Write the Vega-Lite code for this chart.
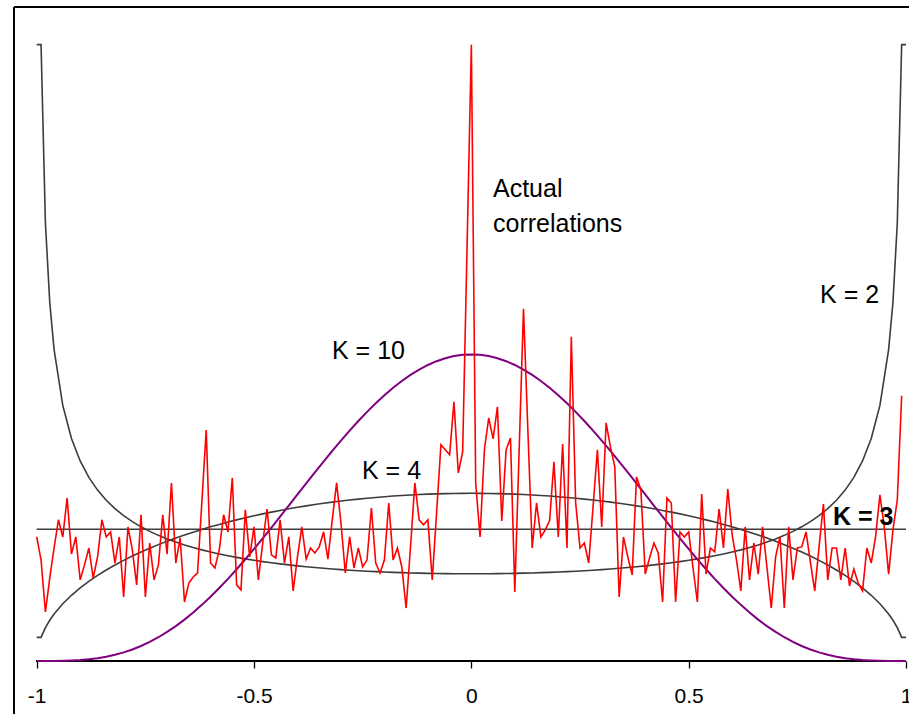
{
"$schema": "https://vega.github.io/schema/vega-lite/v6.json",
"width": 895, "height": 654,
"padding": {"left": 14, "top": 7, "right": 0, "bottom": 53},
"autosize": {"type": "none"},
"background": "white",
"config": {"view": {"stroke": null}, "font": "Liberation Sans"},
"datasets": {
"curves": [
{"x":-1,"k2":2.34,"k4":0.0898,"k10":0,"k3":0.5},
{"x":-0.99,"k2":2.34,"k4":0.0898,"k10":0,"k3":0.5},
{"x":-0.98,"k2":1.6635,"k4":0.1267,"k10":0,"k3":0.5},
{"x":-0.97,"k2":1.3617,"k4":0.1548,"k10":0,"k3":0.5},
{"x":-0.96,"k2":1.1823,"k4":0.1783,"k10":0.0001,"k3":0.5},
{"x":-0.94,"k2":0.9703,"k4":0.2172,"k10":0.0006,"k3":0.5},
{"x":-0.92,"k2":0.8447,"k4":0.2495,"k10":0.0017,"k3":0.5},
{"x":-0.90,"k2":0.7595,"k4":0.2775,"k10":0.0035,"k3":0.5},
{"x":-0.88,"k2":0.6970,"k4":0.3024,"k10":0.0063,"k3":0.5},
{"x":-0.86,"k2":0.6487,"k4":0.3249,"k10":0.0105,"k3":0.5},
{"x":-0.84,"k2":0.6101,"k4":0.3454,"k10":0.0161,"k3":0.5},
{"x":-0.82,"k2":0.5784,"k4":0.3644,"k10":0.0234,"k3":0.5},
{"x":-0.80,"k2":0.5517,"k4":0.3820,"k10":0.0326,"k3":0.5},
{"x":-0.78,"k2":0.5290,"k4":0.3984,"k10":0.0438,"k3":0.5},
{"x":-0.76,"k2":0.5094,"k4":0.4138,"k10":0.0570,"k3":0.5},
{"x":-0.74,"k2":0.4922,"k4":0.4282,"k10":0.0725,"k3":0.5},
{"x":-0.72,"k2":0.4770,"k4":0.4418,"k10":0.0902,"k3":0.5},
{"x":-0.70,"k2":0.4636,"k4":0.4546,"k10":0.1103,"k3":0.5},
{"x":-0.68,"k2":0.4515,"k4":0.4668,"k10":0.1326,"k3":0.5},
{"x":-0.66,"k2":0.4406,"k4":0.4783,"k10":0.1572,"k3":0.5},
{"x":-0.64,"k2":0.4308,"k4":0.4892,"k10":0.1841,"k3":0.5},
{"x":-0.62,"k2":0.4219,"k4":0.4995,"k10":0.2131,"k3":0.5},
{"x":-0.60,"k2":0.4138,"k4":0.5093,"k10":0.2441,"k3":0.5},
{"x":-0.58,"k2":0.4064,"k4":0.5186,"k10":0.2771,"k3":0.5},
{"x":-0.56,"k2":0.3996,"k4":0.5274,"k10":0.3119,"k3":0.5},
{"x":-0.54,"k2":0.3933,"k4":0.5358,"k10":0.3483,"k3":0.5},
{"x":-0.52,"k2":0.3876,"k4":0.5438,"k10":0.3862,"k3":0.5},
{"x":-0.50,"k2":0.3823,"k4":0.5513,"k10":0.4253,"k3":0.5},
{"x":-0.48,"k2":0.3774,"k4":0.5585,"k10":0.4655,"k3":0.5},
{"x":-0.46,"k2":0.3728,"k4":0.5653,"k10":0.5065,"k3":0.5},
{"x":-0.44,"k2":0.3686,"k4":0.5717,"k10":0.5482,"k3":0.5},
{"x":-0.42,"k2":0.3648,"k4":0.5777,"k10":0.5902,"k3":0.5},
{"x":-0.40,"k2":0.3612,"k4":0.5835,"k10":0.6323,"k3":0.5},
{"x":-0.38,"k2":0.3579,"k4":0.5889,"k10":0.6744,"k3":0.5},
{"x":-0.36,"k2":0.3548,"k4":0.5939,"k10":0.7162,"k3":0.5},
{"x":-0.34,"k2":0.3520,"k4":0.5987,"k10":0.7573,"k3":0.5},
{"x":-0.32,"k2":0.3494,"k4":0.6031,"k10":0.7976,"k3":0.5},
{"x":-0.30,"k2":0.3470,"k4":0.6073,"k10":0.8368,"k3":0.5},
{"x":-0.28,"k2":0.3448,"k4":0.6112,"k10":0.8748,"k3":0.5},
{"x":-0.26,"k2":0.3428,"k4":0.6147,"k10":0.9112,"k3":0.5},
{"x":-0.24,"k2":0.3410,"k4":0.6180,"k10":0.9458,"k3":0.5},
{"x":-0.22,"k2":0.3394,"k4":0.6210,"k10":0.9785,"k3":0.5},
{"x":-0.20,"k2":0.3379,"k4":0.6238,"k10":1.0091,"k3":0.5},
{"x":-0.18,"k2":0.3365,"k4":0.6262,"k10":1.0373,"k3":0.5},
{"x":-0.16,"k2":0.3354,"k4":0.6284,"k10":1.0631,"k3":0.5},
{"x":-0.14,"k2":0.3343,"k4":0.6304,"k10":1.0862,"k3":0.5},
{"x":-0.12,"k2":0.3335,"k4":0.6320,"k10":1.1065,"k3":0.5},
{"x":-0.10,"k2":0.3327,"k4":0.6334,"k10":1.1239,"k3":0.5},
{"x":-0.08,"k2":0.3321,"k4":0.6346,"k10":1.1382,"k3":0.5},
{"x":-0.06,"k2":0.3316,"k4":0.6355,"k10":1.1495,"k3":0.5},
{"x":-0.04,"k2":0.3313,"k4":0.6361,"k10":1.1576,"k3":0.5},
{"x":-0.02,"k2":0.3311,"k4":0.6365,"k10":1.1625,"k3":0.5},
{"x":0,"k2":0.3310,"k4":0.6366,"k10":1.1641,"k3":0.5},
{"x":0.02,"k2":0.3311,"k4":0.6365,"k10":1.1625,"k3":0.5},
{"x":0.04,"k2":0.3313,"k4":0.6361,"k10":1.1576,"k3":0.5},
{"x":0.06,"k2":0.3316,"k4":0.6355,"k10":1.1495,"k3":0.5},
{"x":0.08,"k2":0.3321,"k4":0.6346,"k10":1.1382,"k3":0.5},
{"x":0.10,"k2":0.3327,"k4":0.6334,"k10":1.1239,"k3":0.5},
{"x":0.12,"k2":0.3335,"k4":0.6320,"k10":1.1065,"k3":0.5},
{"x":0.14,"k2":0.3343,"k4":0.6304,"k10":1.0862,"k3":0.5},
{"x":0.16,"k2":0.3354,"k4":0.6284,"k10":1.0631,"k3":0.5},
{"x":0.18,"k2":0.3365,"k4":0.6262,"k10":1.0373,"k3":0.5},
{"x":0.20,"k2":0.3379,"k4":0.6238,"k10":1.0091,"k3":0.5},
{"x":0.22,"k2":0.3394,"k4":0.6210,"k10":0.9785,"k3":0.5},
{"x":0.24,"k2":0.3410,"k4":0.6180,"k10":0.9458,"k3":0.5},
{"x":0.26,"k2":0.3428,"k4":0.6147,"k10":0.9112,"k3":0.5},
{"x":0.28,"k2":0.3448,"k4":0.6112,"k10":0.8748,"k3":0.5},
{"x":0.30,"k2":0.3470,"k4":0.6073,"k10":0.8368,"k3":0.5},
{"x":0.32,"k2":0.3494,"k4":0.6031,"k10":0.7976,"k3":0.5},
{"x":0.34,"k2":0.3520,"k4":0.5987,"k10":0.7573,"k3":0.5},
{"x":0.36,"k2":0.3548,"k4":0.5939,"k10":0.7162,"k3":0.5},
{"x":0.38,"k2":0.3579,"k4":0.5889,"k10":0.6744,"k3":0.5},
{"x":0.40,"k2":0.3612,"k4":0.5835,"k10":0.6323,"k3":0.5},
{"x":0.42,"k2":0.3648,"k4":0.5777,"k10":0.5902,"k3":0.5},
{"x":0.44,"k2":0.3686,"k4":0.5717,"k10":0.5482,"k3":0.5},
{"x":0.46,"k2":0.3728,"k4":0.5653,"k10":0.5065,"k3":0.5},
{"x":0.48,"k2":0.3774,"k4":0.5585,"k10":0.4655,"k3":0.5},
{"x":0.50,"k2":0.3823,"k4":0.5513,"k10":0.4253,"k3":0.5},
{"x":0.52,"k2":0.3876,"k4":0.5438,"k10":0.3862,"k3":0.5},
{"x":0.54,"k2":0.3933,"k4":0.5358,"k10":0.3483,"k3":0.5},
{"x":0.56,"k2":0.3996,"k4":0.5274,"k10":0.3119,"k3":0.5},
{"x":0.58,"k2":0.4064,"k4":0.5186,"k10":0.2771,"k3":0.5},
{"x":0.60,"k2":0.4138,"k4":0.5093,"k10":0.2441,"k3":0.5},
{"x":0.62,"k2":0.4219,"k4":0.4995,"k10":0.2131,"k3":0.5},
{"x":0.64,"k2":0.4308,"k4":0.4892,"k10":0.1841,"k3":0.5},
{"x":0.66,"k2":0.4406,"k4":0.4783,"k10":0.1572,"k3":0.5},
{"x":0.68,"k2":0.4515,"k4":0.4668,"k10":0.1326,"k3":0.5},
{"x":0.70,"k2":0.4636,"k4":0.4546,"k10":0.1103,"k3":0.5},
{"x":0.72,"k2":0.4770,"k4":0.4418,"k10":0.0902,"k3":0.5},
{"x":0.74,"k2":0.4922,"k4":0.4282,"k10":0.0725,"k3":0.5},
{"x":0.76,"k2":0.5094,"k4":0.4138,"k10":0.0570,"k3":0.5},
{"x":0.78,"k2":0.5290,"k4":0.3984,"k10":0.0438,"k3":0.5},
{"x":0.80,"k2":0.5517,"k4":0.3820,"k10":0.0326,"k3":0.5},
{"x":0.82,"k2":0.5784,"k4":0.3644,"k10":0.0234,"k3":0.5},
{"x":0.84,"k2":0.6101,"k4":0.3454,"k10":0.0161,"k3":0.5},
{"x":0.86,"k2":0.6487,"k4":0.3249,"k10":0.0105,"k3":0.5},
{"x":0.88,"k2":0.6970,"k4":0.3024,"k10":0.0063,"k3":0.5},
{"x":0.90,"k2":0.7595,"k4":0.2775,"k10":0.0035,"k3":0.5},
{"x":0.92,"k2":0.8447,"k4":0.2495,"k10":0.0017,"k3":0.5},
{"x":0.94,"k2":0.9703,"k4":0.2172,"k10":0.0006,"k3":0.5},
{"x":0.96,"k2":1.1823,"k4":0.1783,"k10":0.0001,"k3":0.5},
{"x":0.97,"k2":1.3617,"k4":0.1548,"k10":0,"k3":0.5},
{"x":0.98,"k2":1.6635,"k4":0.1267,"k10":0,"k3":0.5},
{"x":0.99,"k2":2.34,"k4":0.0898,"k10":0,"k3":0.5},
{"x":1,"k2":2.34,"k4":0.0898,"k10":0,"k3":0.5}
],
"actual": [
{"x":-1,"v":0.471},{"x":-0.99,"v":0.384},{"x":-0.98,"v":0.186},{"x":-0.97,"v":0.315},{"x":-0.96,"v":0.429},
{"x":-0.95,"v":0.536},{"x":-0.94,"v":0.471},{"x":-0.93,"v":0.619},{"x":-0.92,"v":0.406},{"x":-0.91,"v":0.471},
{"x":-0.90,"v":0.308},{"x":-0.89,"v":0.365},{"x":-0.88,"v":0.429},{"x":-0.87,"v":0.315},{"x":-0.86,"v":0.395},
{"x":-0.85,"v":0.536},{"x":-0.84,"v":0.471},{"x":-0.83,"v":0.490},{"x":-0.82,"v":0.372},{"x":-0.81,"v":0.471},
{"x":-0.80,"v":0.243},{"x":-0.79,"v":0.509},{"x":-0.78,"v":0.422},{"x":-0.77,"v":0.289},{"x":-0.76,"v":0.555},
{"x":-0.75,"v":0.243},{"x":-0.74,"v":0.448},{"x":-0.73,"v":0.308},{"x":-0.72,"v":0.365},{"x":-0.71,"v":0.555},
{"x":-0.70,"v":0.406},{"x":-0.69,"v":0.676},{"x":-0.68,"v":0.372},{"x":-0.67,"v":0.467},{"x":-0.66,"v":0.224},
{"x":-0.65,"v":0.296},{"x":-0.64,"v":0.319},{"x":-0.63,"v":0.334},{"x":-0.62,"v":0.604},{"x":-0.61,"v":0.877},
{"x":-0.60,"v":0.372},{"x":-0.59,"v":0.353},{"x":-0.58,"v":0.422},{"x":-0.57,"v":0.555},{"x":-0.56,"v":0.490},
{"x":-0.55,"v":0.695},{"x":-0.54,"v":0.289},{"x":-0.53,"v":0.270},{"x":-0.52,"v":0.574},{"x":-0.51,"v":0.395},
{"x":-0.50,"v":0.509},{"x":-0.49,"v":0.308},{"x":-0.48,"v":0.448},{"x":-0.47,"v":0.577},{"x":-0.46,"v":0.403},
{"x":-0.45,"v":0.391},{"x":-0.44,"v":0.536},{"x":-0.43,"v":0.372},{"x":-0.42,"v":0.471},{"x":-0.41,"v":0.266},
{"x":-0.40,"v":0.395},{"x":-0.39,"v":0.509},{"x":-0.38,"v":0.387},{"x":-0.37,"v":0.429},{"x":-0.36,"v":0.410},
{"x":-0.35,"v":0.433},{"x":-0.34,"v":0.490},{"x":-0.33,"v":0.387},{"x":-0.32,"v":0.536},{"x":-0.31,"v":0.676},
{"x":-0.30,"v":0.524},{"x":-0.29,"v":0.334},{"x":-0.28,"v":0.471},{"x":-0.27,"v":0.353},{"x":-0.26,"v":0.429},
{"x":-0.25,"v":0.357},{"x":-0.24,"v":0.384},{"x":-0.23,"v":0.581},{"x":-0.22,"v":0.372},{"x":-0.21,"v":0.334},
{"x":-0.20,"v":0.384},{"x":-0.19,"v":0.600},{"x":-0.18,"v":0.384},{"x":-0.17,"v":0.429},{"x":-0.16,"v":0.357},
{"x":-0.15,"v":0.201},{"x":-0.14,"v":0.433},{"x":-0.13,"v":0.676},{"x":-0.12,"v":0.536},{"x":-0.11,"v":0.517},
{"x":-0.10,"v":0.536},{"x":-0.09,"v":0.308},{"x":-0.08,"v":0.562},{"x":-0.07,"v":0.821},{"x":-0.06,"v":0.802},
{"x":-0.05,"v":0.783},{"x":-0.04,"v":0.984},{"x":-0.03,"v":0.714},{"x":-0.02,"v":0.794},{"x":-0.01,"v":1.561},
{"x":0,"v":2.34},{"x":0.01,"v":0.676},{"x":0.02,"v":0.471},{"x":0.03,"v":0.802},{"x":0.04,"v":0.923},
{"x":0.05,"v":0.843},{"x":0.06,"v":0.965},{"x":0.07,"v":0.532},{"x":0.08,"v":0.802},{"x":0.09,"v":0.847},
{"x":0.10,"v":0.262},{"x":0.11,"v":0.802},{"x":0.12,"v":1.337},{"x":0.13,"v":0.877},{"x":0.14,"v":0.429},
{"x":0.15,"v":0.600},{"x":0.16,"v":0.471},{"x":0.17,"v":0.498},{"x":0.18,"v":0.532},{"x":0.19,"v":0.756},
{"x":0.20,"v":0.471},{"x":0.21,"v":0.824},{"x":0.22,"v":0.429},{"x":0.23,"v":1.231},{"x":0.24,"v":0.600},
{"x":0.25,"v":0.429},{"x":0.26,"v":0.448},{"x":0.27,"v":0.372},{"x":0.28,"v":0.585},{"x":0.29,"v":0.802},
{"x":0.30,"v":0.509},{"x":0.31,"v":0.904},{"x":0.32,"v":0.813},{"x":0.33,"v":0.737},{"x":0.34,"v":0.243},
{"x":0.35,"v":0.471},{"x":0.36,"v":0.395},{"x":0.37,"v":0.327},{"x":0.38,"v":0.699},{"x":0.39,"v":0.650},
{"x":0.40,"v":0.330},{"x":0.41,"v":0.391},{"x":0.42,"v":0.448},{"x":0.43,"v":0.410},{"x":0.44,"v":0.224},
{"x":0.45,"v":0.619},{"x":0.46,"v":0.600},{"x":0.47,"v":0.224},{"x":0.48,"v":0.490},{"x":0.49,"v":0.471},
{"x":0.50,"v":0.490},{"x":0.51,"v":0.353},{"x":0.52,"v":0.224},{"x":0.53,"v":0.634},{"x":0.54,"v":0.330},
{"x":0.55,"v":0.429},{"x":0.56,"v":0.414},{"x":0.57,"v":0.577},{"x":0.58,"v":0.429},{"x":0.59,"v":0.653},
{"x":0.60,"v":0.479},{"x":0.61,"v":0.384},{"x":0.62,"v":0.266},{"x":0.63,"v":0.509},{"x":0.64,"v":0.308},
{"x":0.65,"v":0.448},{"x":0.66,"v":0.330},{"x":0.67,"v":0.509},{"x":0.68,"v":0.357},{"x":0.69,"v":0.201},
{"x":0.70,"v":0.395},{"x":0.71,"v":0.471},{"x":0.72,"v":0.201},{"x":0.73,"v":0.509},{"x":0.74,"v":0.308},
{"x":0.75,"v":0.429},{"x":0.76,"v":0.433},{"x":0.77,"v":0.490},{"x":0.78,"v":0.376},{"x":0.79,"v":0.266},
{"x":0.80,"v":0.433},{"x":0.81,"v":0.596},{"x":0.82,"v":0.308},{"x":0.83,"v":0.429},{"x":0.84,"v":0.429},
{"x":0.85,"v":0.308},{"x":0.86,"v":0.429},{"x":0.87,"v":0.285},{"x":0.88,"v":0.349},{"x":0.89,"v":0.296},
{"x":0.90,"v":0.266},{"x":0.91,"v":0.429},{"x":0.92,"v":0.372},{"x":0.93,"v":0.471},{"x":0.94,"v":0.631},
{"x":0.95,"v":0.509},{"x":0.96,"v":0.330},{"x":0.97,"v":0.498},{"x":0.98,"v":0.612},{"x":0.99,"v":1.007}
],
"labels": [
{"text":"Actual","x":0.0498,"y":1.7616,"bold":false},
{"text":"correlations","x":0.0498,"y":1.6287,"bold":false},
{"text":"K = 10","x":-0.3206,"y":1.1465,"bold":false},
{"text":"K = 4","x":-0.2516,"y":0.6910,"bold":false},
{"text":"K = 2","x":0.8022,"y":1.3592,"bold":false},
{"text":"K = 3","x":0.8320,"y":0.5163,"bold":true}
]
},
"resolve": {"axis": {"x": "shared", "y": "shared"}},
"layer": [
{
"data": {"name": "curves"},
"mark": {"type": "line", "color": "#3c3c3c", "strokeWidth": 1.6},
"encoding": {
"x": {"field": "x", "type": "quantitative", "title": null, "scale": {"domain": [-1.05223, 1.0069], "nice": false, "zero": false},
"axis": {"values": [-1, -0.5, 0, 0.5, 1], "labelExpr": "'' + datum.value", "domain": false, "grid": false, "ticks": true, "tickSize": 7, "tickColor": "#000000", "tickWidth": 1.3, "labelFontSize": 21, "labelColor": "#000000", "labelFont": "Liberation Sans", "labelPadding": 17, "labelFlush": false, "labelOverlap": false, "title": null}},
"y": {"field": "k2", "type": "quantitative", "title": null, "scale": {"domain": [0, 2.48292], "nice": false, "zero": false}, "axis": null}
}
},
{
"data": {"name": "curves"},
"mark": {"type": "rule", "color": "#000000", "strokeWidth": 1.2},
"encoding": {"x": {"datum": -1.05223, "type": "quantitative"}, "y": {"datum": 2.48292, "type": "quantitative"}, "y2": {"datum": -0.20121}}
},
{
"data": {"name": "curves"},
"mark": {"type": "rule", "color": "#000000", "strokeWidth": 1.2},
"encoding": {"y": {"datum": 2.48292, "type": "quantitative"}}
},
{
"data": {"name": "curves"},
"mark": {"type": "line", "color": "#3c3c3c", "strokeWidth": 1.6},
"encoding": {"x": {"field": "x", "type": "quantitative", "title": null}, "y": {"field": "k4", "type": "quantitative", "title": null}}
},
{
"data": {"name": "curves"},
"mark": {"type": "line", "color": "#3c3c3c", "strokeWidth": 1.6},
"encoding": {"x": {"field": "x", "type": "quantitative", "title": null}, "y": {"field": "k3", "type": "quantitative", "title": null}}
},
{
"data": {"name": "curves"},
"mark": {"type": "rule", "color": "#000000", "strokeWidth": 1.3},
"encoding": {"x": {"datum": -1, "type": "quantitative"}, "x2": {"datum": 1}, "y": {"datum": 0, "type": "quantitative"}}
},
{
"data": {"name": "curves"},
"mark": {"type": "line", "color": "#800080", "strokeWidth": 2},
"encoding": {"x": {"field": "x", "type": "quantitative", "title": null}, "y": {"field": "k10", "type": "quantitative", "title": null}}
},
{
"data": {"name": "actual"},
"mark": {"type": "line", "color": "#ff0000", "strokeWidth": 1.6},
"encoding": {"x": {"field": "x", "type": "quantitative", "title": null}, "y": {"field": "v", "type": "quantitative", "title": null}}
},
{
"data": {"name": "labels"},
"transform": [{"filter": "!datum.bold"}],
"mark": {"type": "text", "align": "left", "baseline": "alphabetic", "fontSize": 25, "font": "Liberation Sans", "color": "#000000"},
"encoding": {"x": {"field": "x", "type": "quantitative", "title": null}, "y": {"field": "y", "type": "quantitative", "title": null}, "text": {"field": "text"}}
},
{
"data": {"name": "labels"},
"transform": [{"filter": "datum.bold"}],
"mark": {"type": "text", "align": "left", "baseline": "alphabetic", "fontSize": 25, "fontWeight": "bold", "font": "Liberation Sans", "color": "#000000"},
"encoding": {"x": {"field": "x", "type": "quantitative", "title": null}, "y": {"field": "y", "type": "quantitative", "title": null}, "text": {"field": "text"}}
}
]
}
